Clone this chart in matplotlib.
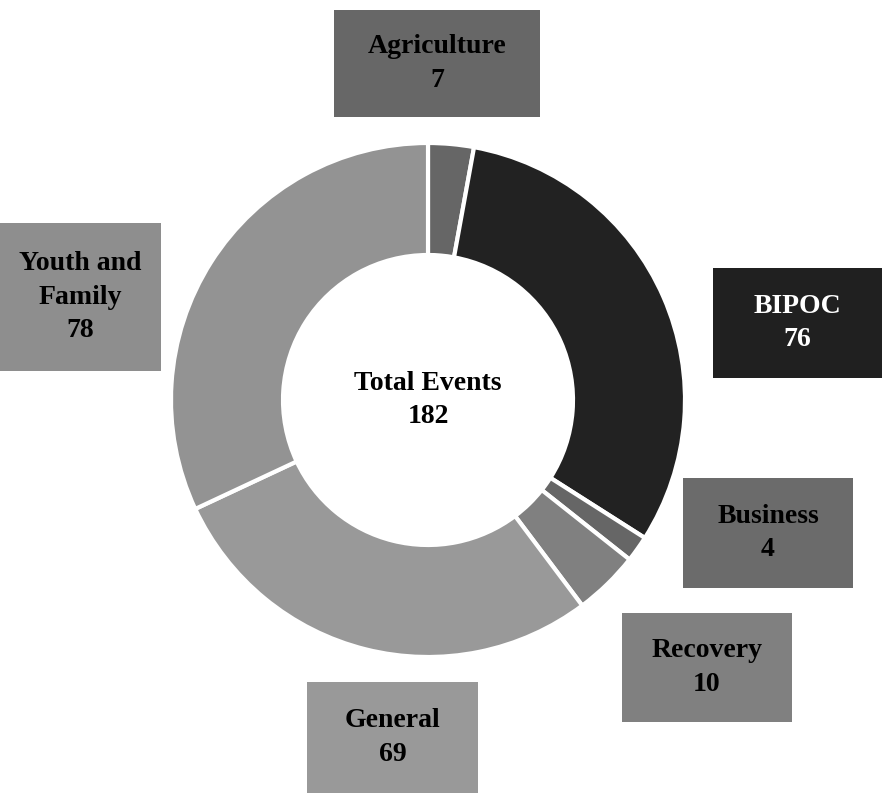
import matplotlib.pyplot as plt
from matplotlib.patches import Rectangle

categories = ["Agriculture", "BIPOC", "Business", "Recovery", "General", "Youth and\nFamily"]
counts = [7, 76, 4, 10, 69, 78]
total_label = "Total Events\n182"

slice_colors = ["#666666", "#222222", "#666666", "#808080", "#999999", "#939393"]
box_colors = ["#676767", "#202020", "#6b6b6b", "#808080", "#999999", "#8e8e8e"]
text_colors = ["black", "white", "black", "black", "black", "black"]
# label boxes in pixel coords: left, top, right, bottom
boxes = [(334, 10, 540, 117), (713, 268, 882, 378), (683, 478, 853, 588),
         (622, 613, 792, 722), (307, 682, 478, 793), (0, 223, 161, 371)]

W, H = 882, 793
plt.rcParams['font.family'] = ['Liberation Serif', 'DejaVu Serif']

fig = plt.figure(figsize=(W / 100, H / 100), dpi=100)
ax = fig.add_axes([0, 0, 1, 1])

cx, cy, r_out, r_in = 428, H - 400, 257, 145
ax.pie(counts, colors=slice_colors, startangle=90, counterclock=False,
       center=(cx, cy), radius=r_out, frame=True,
       wedgeprops=dict(width=r_out - r_in, edgecolor='white', linewidth=3))
ax.set_xlim(0, W)
ax.set_ylim(0, H)
ax.set_aspect('equal')
ax.axis('off')

ax.text(cx, cy, total_label, ha='center', va='center', fontsize=20,
        fontweight='bold', linespacing=1.45)

for name, n, (l, t, rr, b), bc, tc in zip(categories, counts, boxes, box_colors, text_colors):
    ax.add_patch(Rectangle((l, H - b), rr - l, b - t, facecolor=bc, edgecolor='none'))
    ax.text((l + rr) / 2, H - (t + b) / 2, f"{name}\n{n}", ha='center', va='center',
            fontsize=20, fontweight='bold', color=tc, linespacing=1.45)

fig.savefig("out.png", dpi=100)
